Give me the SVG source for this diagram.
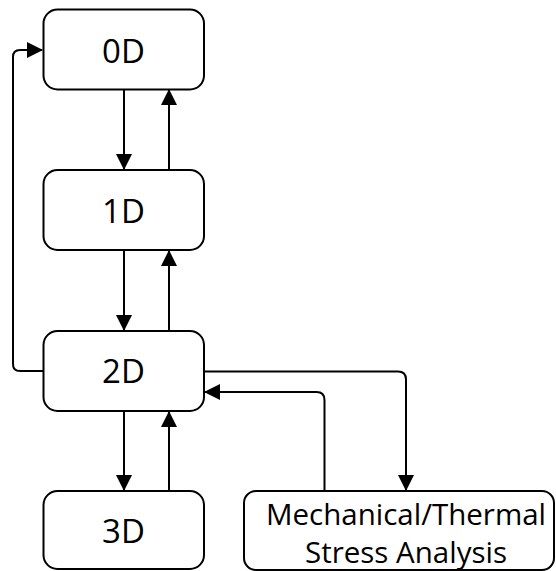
<svg xmlns="http://www.w3.org/2000/svg" width="556" height="571" viewBox="0 0 556 571">
  <style>
    .box { fill: #ffffff; stroke: #000000; stroke-width: 2; }
    .lbl { font-family: "Open Sans", "Liberation Sans", sans-serif; fill: #000000; text-anchor: middle; }
    .big { font-size: 33px; }
    .mid { font-size: 29.5px; }
    .wire { fill: none; stroke: #000000; stroke-width: 2; marker-end: url(#head); }
  </style>
  <defs>
    <marker id="head" viewBox="0 0 16 16" markerWidth="16" markerHeight="16" refX="15" refY="8" orient="auto" markerUnits="userSpaceOnUse">
      <path d="M0,0 L16,8 L0,16 Z" fill="#000000"/>
    </marker>
  </defs>

  <g id="connectors">
    <!-- 0D <-> 1D -->
    <line class="wire" x1="124" y1="90" x2="124" y2="169"/>
    <line class="wire" x1="169" y1="170" x2="169" y2="90"/>
    <!-- 1D <-> 2D -->
    <line class="wire" x1="124" y1="250" x2="124" y2="330"/>
    <line class="wire" x1="169" y1="331" x2="169" y2="251"/>
    <!-- 2D <-> 3D -->
    <line class="wire" x1="124" y1="411" x2="124" y2="490"/>
    <line class="wire" x1="169" y1="491" x2="169" y2="412"/>
    <!-- 2D back to 0D -->
    <path class="wire" d="M43,371 H20 Q13,371 13,364 V57 Q13,50 20,50 H42"/>
    <!-- 2D to stress analysis -->
    <path class="wire" d="M204,371.5 H398 Q406,371.5 406,379.5 V490"/>
    <!-- stress analysis back to 2D -->
    <path class="wire" d="M324.5,491 V400 Q324.5,392 316.5,392 H205"/>
  </g>

  <g id="node-0d">
    <rect class="box" x="43.5" y="9.5" width="160.5" height="80" rx="14"/>
    <text class="lbl big" x="123.5" y="62.5">0D</text>
  </g>
  <g id="node-1d">
    <rect class="box" x="43.5" y="170" width="160.5" height="80" rx="14"/>
    <text class="lbl big" x="123.5" y="222.5">1D</text>
  </g>
  <g id="node-2d">
    <rect class="box" x="43.5" y="331" width="160.5" height="80" rx="14"/>
    <text class="lbl big" x="123.5" y="382.5">2D</text>
  </g>
  <g id="node-3d">
    <rect class="box" x="43.5" y="491" width="160.5" height="78" rx="14"/>
    <text class="lbl big" x="123.5" y="542.5">3D</text>
  </g>
  <g id="node-stress">
    <rect class="box" x="244" y="491" width="310" height="79" rx="12"/>
    <text class="lbl mid" x="406" y="525">Mechanical/Thermal</text>
    <text class="lbl mid" x="406" y="563">Stress Analysis</text>
  </g>
</svg>
